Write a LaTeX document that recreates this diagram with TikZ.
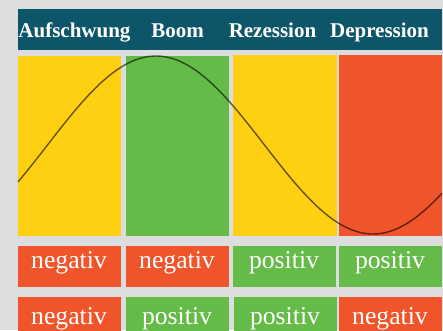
\documentclass[tikz,border=0pt]{standalone}
\usepackage{fontspec}
\setmainfont{Liberation Serif}
\definecolor{bg}{HTML}{DCDDDF}
\definecolor{teal}{HTML}{0D566A}
\definecolor{yel}{HTML}{FFCF12}
\definecolor{grn}{HTML}{64BB48}
\definecolor{rd}{HTML}{F0542B}
\tikzset{
  panel/.style={anchor=north west, inner sep=0pt, outer sep=0pt, minimum width=103pt, minimum height=180pt},
  cell/.style={anchor=north west, inner sep=0pt, outer sep=0pt, minimum width=103pt, minimum height=41pt},
  htext/.style={anchor=base, inner sep=0pt, text=white, font=\fontsize{21}{24}\selectfont\bfseries},
  ctext/.style={anchor=base, inner sep=0pt, text=white, font=\fontsize{25.7}{28}\selectfont},
}
\begin{document}
\begin{tikzpicture}[x=1pt,y=-1pt]
\useasboundingbox (0,0) rectangle (443,330);
\clip (0,0) rectangle (443,330);
\fill[bg] (0,0) rectangle (443,330);
% header
\node[anchor=north west, inner sep=0pt, minimum width=424pt, minimum height=41pt, fill=teal] (hdr) at (18,9) {};
\node[htext] (h1) at (74.5,37.5) {Aufschwung};
\node[htext] (h2) at (177.5,37.5) {Boom};
\node[htext] (h3) at (272.5,37.5) {Rezession};
\node[htext] (h4) at (379.5,37.5) {Depression};
% panels
\node[panel, fill=yel] (p1) at (18,56) {};
\node[panel, fill=grn] (p2) at (126,56) {};
\node[panel, fill=yel, minimum width=104pt, minimum height=181pt] (p3) at (233,55) {};
\node[panel, fill=rd, minimum height=181pt] (p4) at (339,55) {};
% curve
\draw[black, opacity=0.6, line width=1.4pt] plot[domain=18:442, samples=120, smooth]
  (\x, {145 - 89*cos((\x-156)/217*180)});
% row 2
\node[cell, fill=rd] (a1) at (18,246) {};
\node[cell, fill=rd] (a2) at (126,246) {};
\node[cell, fill=grn] (a3) at (233,246) {};
\node[cell, fill=grn] (a4) at (339,246) {};
\node[ctext] (ta1) at (69,268) {negativ};
\node[ctext] (ta2) at (177,268) {negativ};
\node[ctext] (ta3) at (284,268) {positiv};
\node[ctext] (ta4) at (390,268) {positiv};
% row 3
\node[cell, fill=rd] (b1) at (18,297) {};
\node[cell, fill=grn] (b2) at (126,297) {};
\node[cell, fill=grn] (b3) at (234,297) {};
\node[cell, fill=rd] (b4) at (339,297) {};
\node[ctext] (tb1) at (69,324) {negativ};
\node[ctext] (tb2) at (177,324) {positiv};
\node[ctext] (tb3) at (285,324) {positiv};
\node[ctext] (tb4) at (390,324) {negativ};
\end{tikzpicture}
\end{document}
